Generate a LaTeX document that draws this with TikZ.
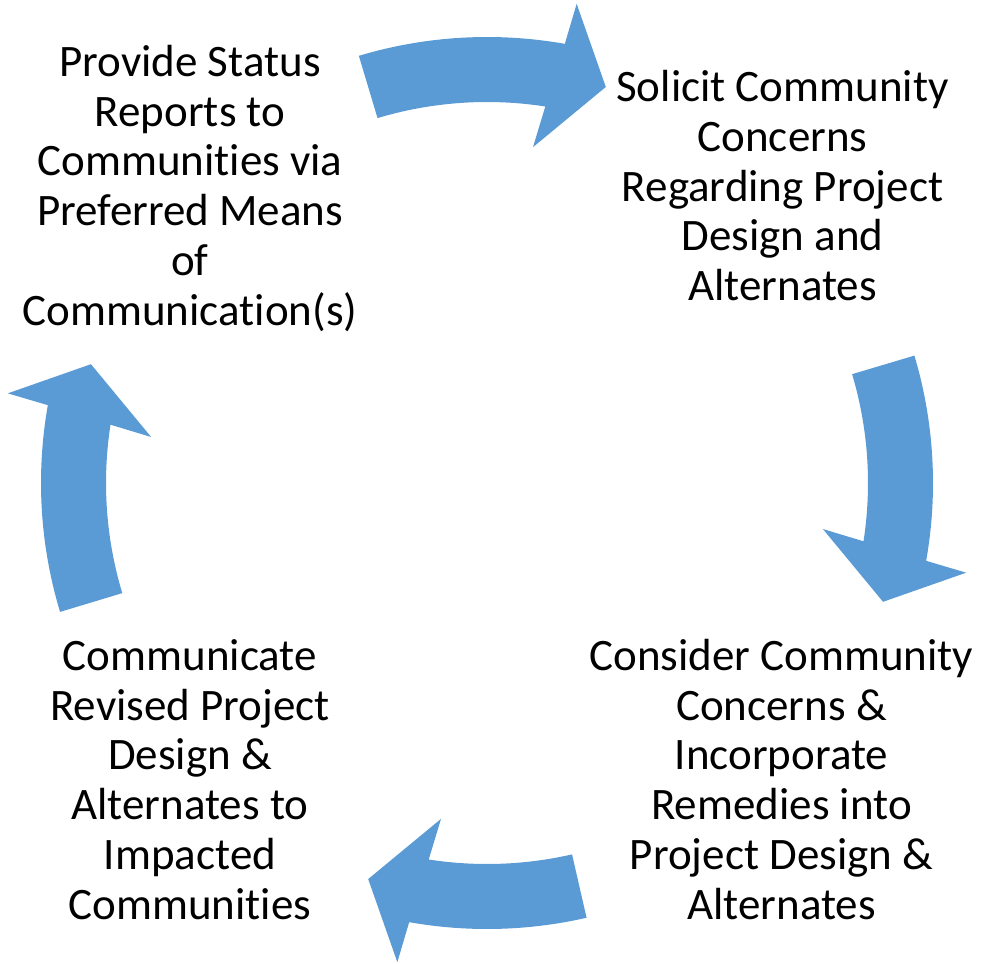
\documentclass[tikz,border=0pt]{standalone}
\usepackage{fontspec}
\setmainfont{Carlito}[Ligatures=NoCommon]
\definecolor{cycleblue}{HTML}{5B9BD5}
\begin{document}
\begin{tikzpicture}[x=1pt,y=1pt,
  steptext/.style={align=center,anchor=base,inner sep=0pt,
    font=\fontsize{45}{49.7}\selectfont,text=black},
  arrowfill/.style={fill=cycleblue,draw=none}]
\useasboundingbox (0,0) rectangle (981,-963);
% centre of the cycle
\coordinate (C) at (487,-483);

% one curved block arrow, drawn clockwise in its own frame:
% #1 = rotation of the frame, #2 = angle of the tail
\newcommand\cyclearrow[2]{%
  \begin{scope}[shift={(C)},rotate=#1]
    \fill[arrowfill] (#2:446pt) arc[start angle=#2,end angle=-10.05,radius=446pt]
      -- (-10.6:487.5pt) -- (-16.7:413.5pt) -- (-7.8:339pt) -- (-8.8:381pt)
      arc[start angle=-8.8,end angle=#2,radius=381pt] -- cycle;
  \end{scope}}

\cyclearrow{90}{16.7}
\cyclearrow{0}{16.6}
\cyclearrow{-90}{12.9}
\cyclearrow{180}{16.8}

% the base anchor of each block sits on its last line
\node[steptext] (status) at (190,-325)
  {Provide Status\\Reports to\\Communities via\\Preferred Means\\of\\Communication(s)};
\node[steptext] (solicit) at (782.5,-300.5)
  {Solicit Community\\Concerns\\Regarding Project\\Design and\\Alternates};
\node[steptext] (consider) at (781.5,-919)
  {Consider Community\\Concerns \&\\Incorporate\\Remedies into\\Project Design \&\\Alternates};
\node[steptext] (revised) at (190,-919)
  {Communicate\\Revised Project\\Design \&\\Alternates to\\Impacted\\Communities};
\end{tikzpicture}
\end{document}
